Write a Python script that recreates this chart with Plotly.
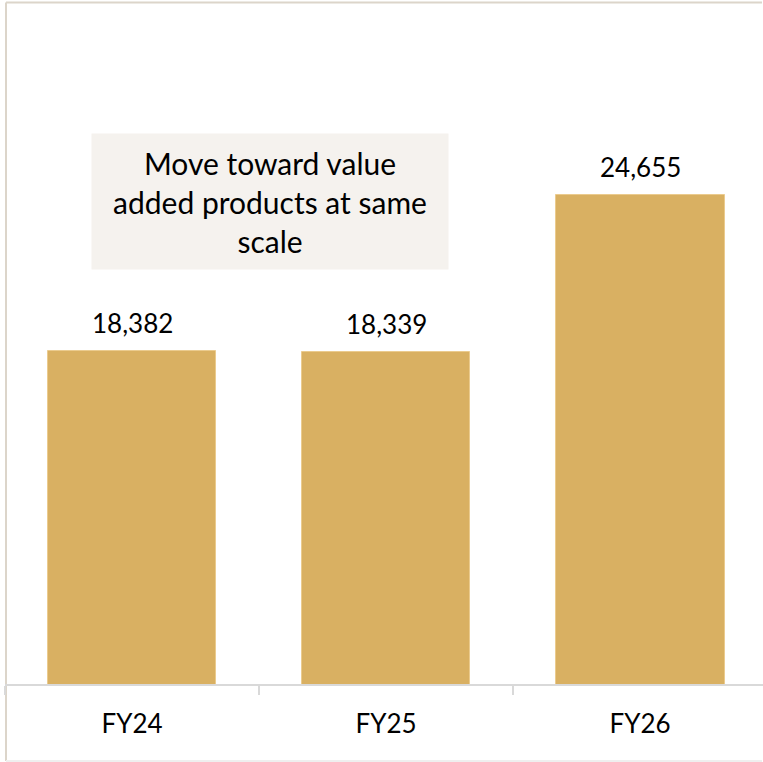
import plotly.graph_objects as go

# Annual volumes by fiscal year
years = ["FY24", "FY25", "FY26"]
volumes = [18382, 18339, 24655]
note_text = "Move toward value<br>added products at same<br>scale"

BAR_COLOR = "#D9B062"
FRAME_COLOR = "#DCD5CA"
NOTE_BG = "#F5F2EE"
FONT = "Lato"

W, H = 763, 762
M_L, M_R, M_T, M_B = 5, 0, 62, 78
Y_MIN, Y_MAX = 5000, 30000

plot_w = W - M_L - M_R
plot_h = H - M_T - M_B


def px_to_paper_x(px):
    return (px - M_L) / plot_w


def px_to_paper_y(py):
    return (H - M_B - py) / plot_h


fig = go.Figure(
    go.Bar(
        x=years,
        y=volumes,
        width=0.665,
        marker=dict(color=BAR_COLOR, line=dict(color="#EBCB8E", width=1)),
        hoverinfo="skip",
    )
)

# value labels above each bar
for yr, v in zip(years, volumes):
    fig.add_annotation(
        x=yr, y=v, text=f"{v:,}", showarrow=False,
        yanchor="bottom", yshift=10,
        font=dict(family=FONT, size=26, color="#000000"),
    )

# callout box
fig.add_annotation(
    xref="paper", yref="paper",
    x=px_to_paper_x(270), y=px_to_paper_y(201.5),
    xanchor="center", yanchor="middle",
    text=note_text, showarrow=False,
    width=356, height=135, borderpad=0,
    bgcolor=NOTE_BG, align="center", valign="middle",
    font=dict(family=FONT, size=30, color="#000000"),
)

# outer frame: top and left edges, faint bottom edge
frame_lines = [
    ((6, 2.5), (W - 1, 2.5), FRAME_COLOR),
    ((6, 2.5), (6, 761), FRAME_COLOR),
    ((6, 761), (W - 1, 761), "#EFEFEF"),
]
for (x0, y0), (x1, y1), col in frame_lines:
    fig.add_shape(
        type="line", xref="paper", yref="paper",
        x0=px_to_paper_x(x0), x1=px_to_paper_x(x1),
        y0=px_to_paper_y(y0), y1=px_to_paper_y(y1),
        line=dict(color=col, width=2), layer="below",
    )

fig.update_layout(
    width=W, height=H,
    margin=dict(l=M_L, r=M_R, t=M_T, b=M_B),
    paper_bgcolor="white", plot_bgcolor="white",
    showlegend=False,
    bargap=0,
    xaxis=dict(
        type="category",
        range=[-0.5, 2.484],
        showgrid=False, zeroline=False,
        showline=True, linecolor="#D9D9D9", linewidth=2,
        ticks="outside", tickson="boundaries",
        ticklen=9, tickwidth=2, tickcolor="#D9D9D9",
        tickfont=dict(family=FONT, size=26, color="#000000"),
        ticklabelstandoff=16,
    ),
    yaxis=dict(
        range=[Y_MIN, Y_MAX], visible=False,
        showgrid=False, zeroline=False,
    ),
)

fig.write_html("out.html", config={"displayModeBar": False})
